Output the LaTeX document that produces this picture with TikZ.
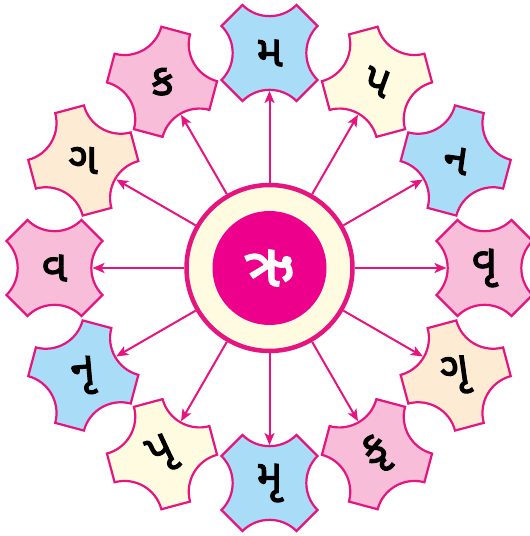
\documentclass[tikz,border=0pt]{standalone}
\usepackage{fontspec}
\newfontfamily\guj[Script=Gujarati,FakeBold=2.5]{Noto Sans Gujarati UI}
\usetikzlibrary{arrows.meta}
\definecolor{mag}{HTML}{E5147F}
\definecolor{cdisc}{HTML}{EC008C}
\definecolor{blu}{HTML}{A9DDF7}
\definecolor{pnk}{HTML}{F7BDD9}
\definecolor{yel}{HTML}{FFFBE0}
\definecolor{pch}{HTML}{FDEBD3}
\tikzset{
  petal/.style={draw=mag, line width=2.2pt, line join=miter},
  lab/.style={font=\guj\fontsize{44}{44}\selectfont, text=black, inner sep=0pt},
  arr/.style={draw=mag, line width=2pt, -{Stealth[length=12pt,width=10pt,inset=3pt]}},
  hubstyle/.style={circle, draw=mag, line width=4.5pt, fill=yel, minimum size=166pt, inner sep=0pt}
}
\begin{document}
\begin{tikzpicture}[x=1pt,y=1pt]
\useasboundingbox (0,0) rectangle (530,536);
\begin{scope}[shift={(269.5,268)}]
\foreach \ang/\col/\txt/\rot/\nm in {90/blu/મ/0/1, 60/yel/પ/-20/2, 30/blu/ન/-8/3, 0/pnk/વૃ/0/4, -30/pch/ગૃ/8/5, -60/pnk/કૃ/30/6, -90/blu/મૃ/0/7, -120/yel/પૃ/25/8, -150/blu/નૃ/5/9, 180/pnk/વ/0/10, 150/pch/ગ/0/11, 120/pnk/ક/8/12}{
  \begin{scope}[shift={(\ang:215)}, rotate=\ang-90]
    \path[petal, fill=\col] (-27,48) arc[start angle=225, end angle=315, radius=38.18]
      -- (48,27) arc[start angle=135, end angle=225, radius=38.18]
      -- (27,-48) arc[start angle=45, end angle=135, radius=38.18]
      -- (-48,-27) arc[start angle=-45, end angle=45, radius=38.18] -- cycle;
  \end{scope}
  \node[lab, rotate=\rot] (p\nm) at (\ang:215) {\txt};
  \coordinate (t\nm) at (\ang:177);
}
\node[hubstyle] (hub) at (0,0) {};
\fill[cdisc] (hub.center) circle (57);
\node[font=\guj\fontsize{60}{60}\selectfont, text=white, inner sep=0pt] (ctr) at (hub.center) {ઋ};
\foreach \nm in {1,...,12}{
  \draw[arr] (hub) -- (t\nm);
}
\end{scope}
\end{tikzpicture}
\end{document}
